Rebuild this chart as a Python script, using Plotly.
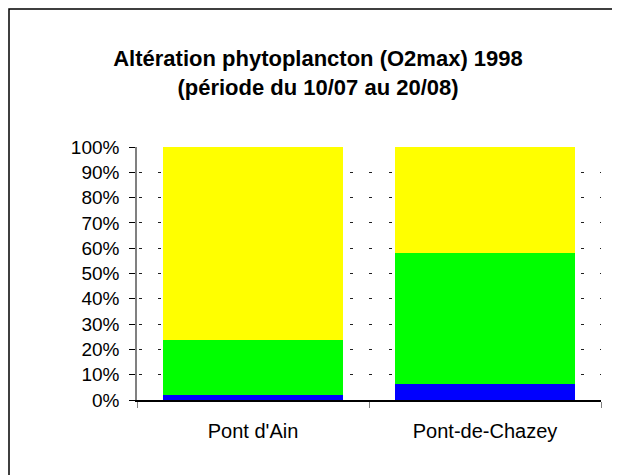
import plotly.graph_objects as go

# Stations and share of each class (% of the period)
stations = ["Pont d'Ain", "Pont-de-Chazey"]
blue_pct = [2.0, 6.3]
green_pct = [21.7, 51.8]
yellow_pct = [76.3, 41.9]
y_ticks = list(range(0, 101, 10))

fig = go.Figure()

for vals, color in [(blue_pct, "#0000FF"), (green_pct, "#00FF00"), (yellow_pct, "#FFFF00")]:
    fig.add_trace(go.Bar(
        x=stations,
        y=vals,
        marker=dict(color=color, line=dict(width=0)),
        showlegend=False,
    ))

# plot area (figure px): x 129..593, y 139..392
fig.update_layout(
    width=620, height=475,
    barmode="stack",
    bargap=0.224,
    paper_bgcolor="white",
    plot_bgcolor="white",
    font=dict(family="Liberation Sans, Arial, sans-serif", color="black", size=19),
    title=dict(
        text="<b>Altération phytoplancton (O2max) 1998<br>(période du 10/07 au 20/08)</b>",
        font=dict(size=22, family="Liberation Sans, Arial, sans-serif", color="black"),
        x=0.5, xanchor="center",
        y=1 - 58 / 475, yanchor="middle",
    ),
    margin=dict(l=129, r=27, t=139, b=83),
    showlegend=False,
)

fig.update_xaxes(
    showline=True, linecolor="black", linewidth=1.5,
    ticks="outside", tickson="boundaries", ticklen=6, tickcolor="#808080",
    ticklabelstandoff=12,
    tickfont=dict(size=20),
    showgrid=False,
)

fig.update_yaxes(
    range=[0, 100],
    tickvals=y_ticks,
    ticktext=[f"{v}%" for v in y_ticks],
    showline=True, linecolor="#808080", linewidth=1.5,
    ticks="outside", ticklen=6, tickcolor="black",
    ticklabelstandoff=6,
    showgrid=True, gridcolor="#202020", gridwidth=1,
    griddash="0px,2px,3px,14.2px",
    zeroline=False,
)

# Outer chart frame (runs past the right and bottom edges in the reference)
fig.add_shape(
    type="rect", xref="paper", yref="paper",
    x0=(1 - 129) / 464, x1=1.2,
    y0=-0.5, y1=(392 - 1) / 253,
    line=dict(color="black", width=1.5),
    layer="below",
)

fig.write_html("out.html")
